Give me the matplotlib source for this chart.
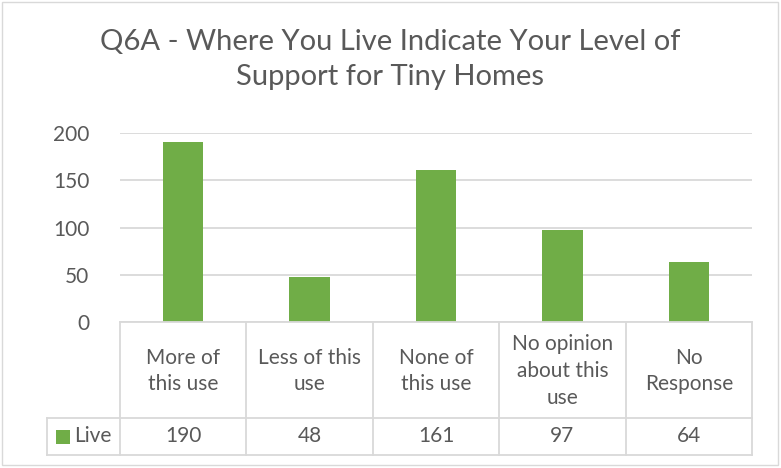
import matplotlib.pyplot as plt
from matplotlib.lines import Line2D
from matplotlib.patches import Rectangle
import matplotlib.transforms as mtransforms

categories = ['More of\nthis use', 'Less of this\nuse', 'None of\nthis use',
              'No opinion\nabout this\nuse', 'No\nResponse']
live = [190, 48, 161, 97, 64]
yticks = [0, 50, 100, 150, 200]
title = 'Q6A - Where You Live Indicate Your Level of\nSupport for Tiny Homes'

W, H = 781, 468
TEXT = '#595959'
GRID = '#d9d9d9'
GREEN = '#70ad47'

plt.rcParams['font.family'] = ['Lato', 'DejaVu Sans']


def fx(px):
    return px / W


def fy(py):
    return 1 - py / H


fig = plt.figure(figsize=(W / 100, H / 100), dpi=100)
fig.add_artist(Rectangle((fx(2), fy(465)), fx(776), 1 - fy(463), transform=fig.transFigure,
                         fill=False, edgecolor=GRID, lw=1))

left, right, top, bottom = 120, 752, 133, 322
ax = fig.add_axes([fx(left), fy(bottom), fx(right - left), (bottom - top) / H])
x = list(range(len(categories)))
ax.bar(x, live, width=0.32, color=GREEN, zorder=3)
ax.set_xlim(-0.5, len(categories) - 0.5)
ax.set_ylim(0, 200)
ax.set_yticks(yticks)
ax.yaxis.grid(True, color=GRID, lw=1.3)
ax.set_axisbelow(True)
for s in ax.spines.values():
    s.set_visible(False)
ax.set_xticks([])
ax.tick_params(axis='y', length=0, pad=22, labelsize=15, labelcolor=TEXT)

fig.suptitle(title, x=0.5, y=fy(29), va='top', fontsize=21, color=TEXT,
             linespacing=1.45)

# data table below the plot
row1, row2 = 418, 455
col_edges = [left + (right - left) * i / len(categories) for i in range(len(categories) + 1)]
lw = 1.3
for yy, x0 in [(bottom, left), (row1, 47), (row2, 47)]:
    fig.add_artist(Line2D([fx(x0), fx(right)], [fy(yy), fy(yy)], color=GRID, lw=lw,
                          transform=fig.transFigure))
for xe in col_edges:
    fig.add_artist(Line2D([fx(xe), fx(xe)], [fy(bottom), fy(row2)], color=GRID, lw=lw,
                          transform=fig.transFigure))
fig.add_artist(Line2D([fx(47), fx(47)], [fy(row1), fy(row2)], color=GRID, lw=lw,
                      transform=fig.transFigure))

trans = mtransforms.blended_transform_factory(ax.transData, fig.transFigure)
for xi, cat, v in zip(x, categories, live):
    ax.text(xi, fy((bottom + row1) / 2 + 1), cat, transform=trans, ha='center', va='center',
            fontsize=15, color=TEXT, linespacing=1.42)
    ax.text(xi, fy((row1 + row2) / 2), str(v), transform=trans, ha='center', va='center',
            fontsize=15, color=TEXT)

fig.add_artist(Rectangle((fx(56), fy(444)), fx(14), 14 / H, transform=fig.transFigure,
                         facecolor=GREEN, edgecolor='none'))
fig.text(fx(74), fy((row1 + row2) / 2), 'Live', ha='left', va='center', fontsize=15, color=TEXT)

fig.savefig('out.png', dpi=100)
